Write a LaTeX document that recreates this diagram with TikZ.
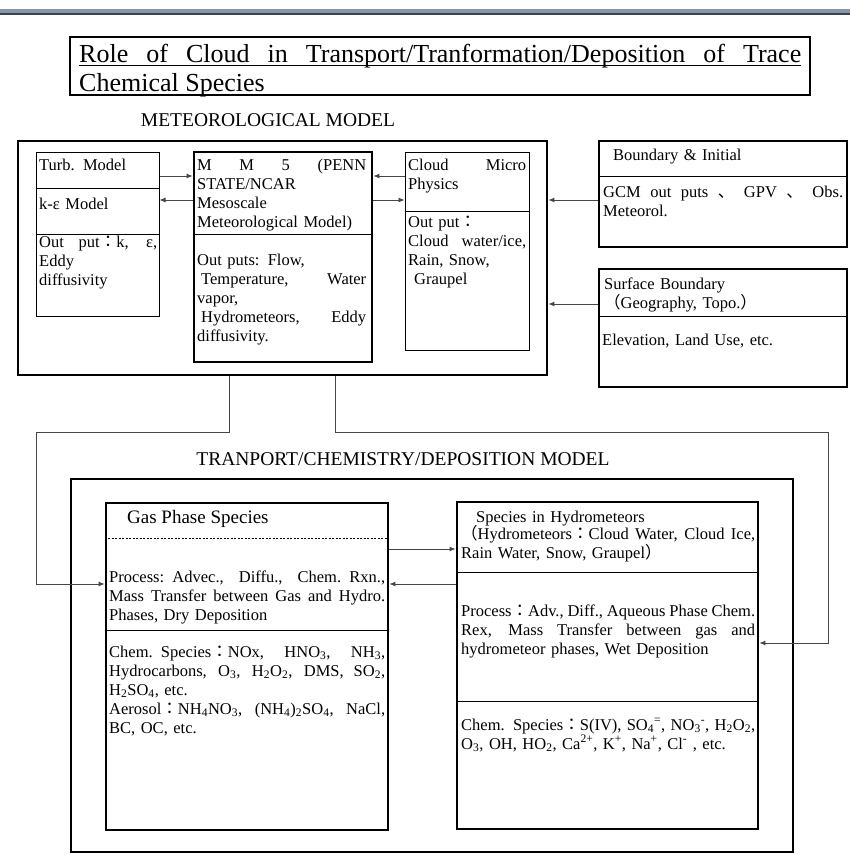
\documentclass[tikz,border=0pt]{standalone}
\usepackage{fontspec}
\setmainfont{Liberation Serif}
\newfontfamily\cjkfont{Noto Sans CJK JP}
\usetikzlibrary{arrows.meta}
\newcommand\fw[1]{{\cjkfont #1}}
\newcommand\jl[1]{\makebox[\linewidth][s]{\spaceskip=\fontdimen2\font plus 1fil minus \fontdimen4\font\relax #1}}
\newcommand\bodyfont{\fontsize{16.5}{19}\selectfont}
\newcommand\headfont{\fontsize{19.5}{23}\selectfont}
\newcommand\titlefont{\fontsize{26}{31}\selectfont}
\newcommand\ulin[1]{\sbox0{#1}\usebox0\llap{\rule[-3.5pt]{\wd0}{1.3pt}}}
\definecolor{barlight}{RGB}{138,148,170}
\definecolor{bardark}{RGB}{60,66,80}
\definecolor{wire}{RGB}{70,70,70}
\tikzset{
  thickbox/.style={draw, line width=2.8pt, inner sep=0pt},
  thinbox/.style={draw, line width=1pt, inner sep=0pt},
  divider/.style={line width=0.9pt},
  link/.style={draw=wire, line width=0.9pt, -{Latex[length=6pt,width=5pt]}},
  txt/.style={anchor=base west, inner sep=0pt, align=left, font=\bodyfont},
}

\begin{document}
\begin{tikzpicture}[x=1pt, y=-1pt]
\useasboundingbox (0,0) rectangle (850,864);
\fill[barlight] (0,9) rectangle (850,13);
\fill[bardark] (0,13) rectangle (850,15);
%
\node [draw, line width=1.3pt, minimum width=740pt, minimum height=58pt, inner sep=0pt] at (440,66) (title) {};
\node [anchor=base west, inner sep=0pt, font=\titlefont] at (79,63) (titleA) {\ulin{\makebox[722pt][s]{Role of Cloud in Transport/Tranformation/Deposition of Trace}}};
\node [anchor=base west, inner sep=0pt, font=\titlefont] at (79,92) (titleB) {\ulin{Chemical Species}};
\node [anchor=base, inner sep=0pt, font=\headfont] at (268,126) (metlabel) {METEOROLOGICAL MODEL};
%
\node [thickbox, minimum width=529pt, minimum height=234pt] at (282.5,258) (met) {};
\node [thinbox, minimum width=123pt, minimum height=164pt] at (97.5,234) (turb) {};
\node [thickbox, minimum width=178pt, minimum height=210pt] at (283,257) (mm5) {};
\node [thinbox, minimum width=124pt, minimum height=198pt] at (467,251) (cloud) {};
\node [thickbox, minimum width=248pt, minimum height=106pt] at (723,194) (bnd) {};
\node [thickbox, minimum width=248pt, minimum height=118pt] at (723,328) (surf) {};
%
\draw[divider] (turb.west |- 0,188) -- (turb.east |- 0,188);
\draw[divider] (turb.west |- 0,234) -- (turb.east |- 0,234);
\draw[divider] (mm5.west |- 0,234) -- (mm5.east |- 0,234);
\draw[divider] (cloud.west |- 0,211) -- (cloud.east |- 0,211);
\draw[divider] (bnd.west |- 0,176) -- (bnd.east |- 0,176);
\draw[divider] (surf.west |- 0,316) -- (surf.east |- 0,316);
%
\node [txt, text width=120pt] at (39,170) (turbA) {Turb. Model};
\node [txt, text width=120pt] at (39,209) (turbB) {k-ε Model};
\node [txt, text width=118pt] at (39,247) (turbC) {\jl{Out put\fw{：}k, ε,}\\ Eddy\\ diffusivity};
\node [txt, text width=169pt] at (197,170) (mmA) {\jl{M M 5 (PENN}\\ STATE/NCAR\\ Mesoscale\\ Meteorological Model)};
\node [txt, text width=169pt] at (197,265) (mmB) {Out puts: Flow,\\ \jl{\hspace*{4pt}Temperature, Water}\\ vapor,\\ \jl{\hspace*{4pt}Hydrometeors, Eddy}\\ diffusivity.};
\node [txt, text width=118pt] at (408,170) (cloudA) {\jl{Cloud Micro}\\ Physics};
\node [txt, text width=118pt] at (408,227) (cloudB) {Out put\fw{：}\\ \jl{Cloud water/ice,}\\ Rain, Snow,\\ \hspace*{6pt}Graupel};
\node [txt, text width=230pt] at (613,160) (bndA) {Boundary \& Initial};
\node [txt, text width=240pt] at (603,197) (bndB) {\jl{GCM out puts \fw{、} GPV \fw{、} Obs.}\\ Meteorol.};
\node [txt, text width=240pt] at (604,289) (surfA) {Surface Boundary\\ \fw{（}Geography, Topo.\fw{）}};
\node [txt, text width=240pt] at (602,345) (surfB) {Elevation, Land Use, etc.};
%
\draw[link] (turb.east |- 0,176) -- (mm5.west |- 0,176);
\draw[link] (mm5.west |- 0,200) -- (turb.east |- 0,200);
\draw[link] (cloud.west |- 0,176) -- (mm5.east |- 0,176);
\draw[link] (mm5.east |- 0,200) -- (cloud.west |- 0,200);
\draw[link] (bnd.west |- 0,200) -- (met.east |- 0,200);
\draw[link] (surf.west |- 0,304) -- (met.east |- 0,304);
%
\node [anchor=base, inner sep=0pt, font=\headfont] at (403,465) (trlabel) {TRANPORT/CHEMISTRY/DEPOSITION MODEL};
\node [thickbox, minimum width=722pt, minimum height=373pt] at (432,665.5) (trans) {};
\node [thickbox, minimum width=282pt, minimum height=327pt] at (247,666.5) (gas) {};
\node [thickbox, minimum width=301pt, minimum height=327pt] at (607.5,665.5) (hydro) {};
%
\draw[divider, dashed, dash pattern=on 2pt off 1.5pt] (gas.west |- 0,538) -- (gas.east |- 0,538);
\draw[divider] (gas.west |- 0,630) -- (gas.east |- 0,630);
\draw[divider] (hydro.west |- 0,572) -- (hydro.east |- 0,572);
\draw[divider] (hydro.west |- 0,701) -- (hydro.east |- 0,701);
%
\node [txt, font=\fontsize{19}{22}\selectfont] at (127,523) (gasA) {Gas Phase Species};
\node [txt, text width=276pt] at (109,582) (gasB) {\jl{Process: Advec., Diffu., Chem. Rxn.,}\\ \jl{Mass Transfer between Gas and Hydro.}\\ Phases, Dry Deposition};
\node [txt, text width=276pt] at (109,657) (gasC) {\jl{Chem. Species\fw{：}NOx, HNO\textsubscript{3}, NH\textsubscript{3},}\\ \jl{Hydrocarbons, O\textsubscript{3}, H\textsubscript{2}O\textsubscript{2}, DMS, SO\textsubscript{2},}\\ H\textsubscript{2}SO\textsubscript{4}, etc.\\ \jl{Aerosol\fw{：}NH\textsubscript{4}NO\textsubscript{3}, (NH\textsubscript{4})\textsubscript{2}SO\textsubscript{4}, NaCl,}\\ BC, OC, etc.};
\node [txt, text width=260pt] at (476,522) (hydroA) {Species in Hydrometeors};
\node [txt, text width=294pt] at (461,539) (hydroB) {\jl{\fw{（}Hydrometeors\fw{：}Cloud Water, Cloud Ice,}\\ Rain Water, Snow, Graupel\fw{）}};
\node [txt, text width=294pt] at (461,616) (hydroC) {\jl{Process\fw{：}Adv., Diff., Aqueous Phase Chem.}\\ \jl{Rex, Mass Transfer between gas and}\\ hydrometeor phases, Wet Deposition};
\node [txt, text width=294pt] at (461,730) (hydroD) {\jl{Chem. Species\fw{：}S(IV), SO\textsubscript{4}\textsuperscript{=}, NO\textsubscript{3}\textsuperscript{-}, H\textsubscript{2}O\textsubscript{2},}\\ O\textsubscript{3}, OH, HO\textsubscript{2}, Ca\textsuperscript{2+}, K\textsuperscript{+}, Na\textsuperscript{+}, Cl\textsuperscript{-} , etc.};
%
\draw[link] (gas.east |- 0,549) -- (hydro.west |- 0,549);
\draw[link] (hydro.west |- 0,584) -- (gas.east |- 0,584);
%
\coordinate (bendL) at (36,432);
\coordinate (bendR) at (828,432);
\draw[link] (met.south -| 229,0) |- (bendL) |- (gas.west |- 0,584);
\draw[link] (met.south -| 335,0) |- (bendR) |- (hydro.east |- 0,643);
\end{tikzpicture}
\end{document}
